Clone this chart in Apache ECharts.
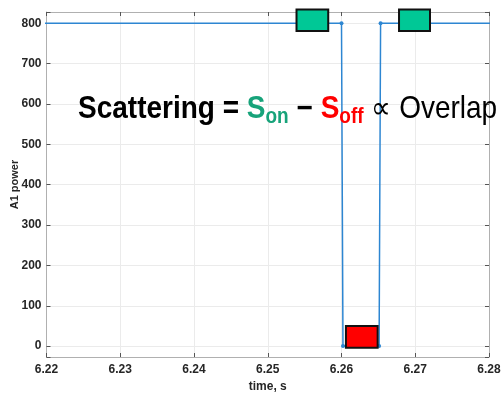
<!DOCTYPE html>
<html>
<head>
<meta charset="utf-8">
<script src="https://cdn.jsdelivr.net/npm/echarts@6/dist/echarts.min.js"></script>
<style>
	html, body { margin: 0; padding: 0; background: #fff; }
	#chart { width: 502px; height: 394px; }
</style>
</head>
<body>
<div id="chart"></div>
<script>
// trace samples (points outside the axis range are clipped)
var times = [6.21, 6.2600, 6.2602, 6.2651, 6.2653, 6.29];
var power = [800, 800, 0, 0, 800, 800];
// on / off boxes: [t0, t1, low, high]
var onBoxes = [[6.2539, 6.2582, 781, 834], [6.2678, 6.2720, 781, 834]];
var offBoxes = [[6.2606, 6.2649, -4, 50]];
var xTicks = [6.22, 6.23, 6.24, 6.25, 6.26, 6.27, 6.28];

var lineColor = '#2D86D2';
var axisGray = '#b0b0b0';
var labelColor = '#262626';

var dom = document.getElementById("chart");
var myChart = echarts.init(dom, null, { renderer: 'canvas' });

var lineData = [];
for (var i = 0; i < times.length; i++) {
	lineData.push([times[i], power[i]]);
}

function boxItem(color) {
	return function (params, api) {
		var p0 = api.coord([api.value(0), api.value(3)]);
		var p1 = api.coord([api.value(1), api.value(2)]);
		return {
			type: 'rect',
			shape: { x: p0[0], y: p0[1], width: p1[0] - p0[0], height: p1[1] - p0[1] },
			style: { fill: color, stroke: '#111', lineWidth: 2 }
		};
	};
}

var option = {
	animation: false,
	backgroundColor: '#fff',
	grid: { left: 46.5, right: 13, top: 12, bottom: 37, containLabel: false, outerBoundsMode: 'none' },
	xAxis: [
		{
			type: 'value', min: 6.22, max: 6.28, interval: 0.01,
			name: 'time, s', nameLocation: 'middle', nameGap: 24, nameMoveOverlap: false,
			nameTextStyle: { fontFamily: 'Liberation Sans', fontWeight: 'bold', fontSize: 12, color: labelColor },
			axisLine: { show: true, onZero: false, lineStyle: { color: axisGray, width: 1 } },
			axisTick: { show: true, inside: true, length: 4, lineStyle: { color: '#555' } },
			axisLabel: {
				margin: 7, fontFamily: 'Liberation Sans', fontWeight: 'bold', fontSize: 12, color: labelColor,
				formatter: function (v) { return v.toFixed(2); }
			},
			splitLine: { show: true, lineStyle: { color: '#ebebeb', width: 1 } }
		},
		{
			type: 'value', min: 6.22, max: 6.28, interval: 0.01, position: 'top',
			axisLine: { show: true, onZero: false, lineStyle: { color: axisGray, width: 1 } },
			axisTick: { show: true, inside: true, length: 4, lineStyle: { color: '#555' } },
			axisLabel: { show: false },
			splitLine: { show: false }
		}
	],
	yAxis: [
		{
			type: 'value', min: -27, max: 828, splitNumber: 9,
			name: 'A1 power', nameLocation: 'middle', nameGap: 26, nameMoveOverlap: false,
			nameTextStyle: { fontFamily: 'Liberation Sans', fontWeight: 'bold', fontSize: 11, color: labelColor },
			axisLine: { show: true, onZero: false, lineStyle: { color: axisGray, width: 1 } },
			axisTick: { show: true, inside: true, length: 4, lineStyle: { color: '#555' } },
			axisLabel: {
				margin: 5, fontFamily: 'Liberation Sans', fontWeight: 'bold', fontSize: 12, color: labelColor,
				formatter: function (v) { return (v % 100 === 0) ? String(v) : ''; }
			},
			splitLine: { show: true, lineStyle: { color: '#ebebeb', width: 1 } }
		},
		{
			type: 'value', min: -27, max: 828, splitNumber: 9, position: 'right',
			axisLine: { show: true, onZero: false, lineStyle: { color: axisGray, width: 1 } },
			axisTick: { show: true, inside: true, length: 4, lineStyle: { color: '#555' } },
			axisLabel: { show: false },
			splitLine: { show: false }
		}
	],
	series: [
		{
			type: 'line', data: lineData, clip: true, z: 3,
			symbol: 'circle',
			symbolSize: function (val) { return (val[0] > 6.22 && val[0] < 6.28) ? 4 : 0; },
			showAllSymbol: true,
			lineStyle: { color: lineColor, width: 1.5 },
			itemStyle: { color: lineColor }
		},
		{
			type: 'custom', data: onBoxes, renderItem: boxItem('#00C896'), clip: false, z: 5
		},
		{
			type: 'custom', data: offBoxes, renderItem: boxItem('#FF0000'), clip: false, z: 5
		}
	],
	graphic: [
		{
			type: 'text', x: 78, y: 90, scaleY: 1.12, z: 10,
			style: {
				text: '{b|Scattering = }{g|S}{gs|on}{b| \u2212 }{r|S}{rs|off}{n| \u221D Overlap}',
				rich: {
					b: { fontFamily: 'Liberation Sans', fontWeight: 'bold', fontSize: 28, lineHeight: 34, fill: '#000' },
					g: { fontFamily: 'Liberation Sans', fontWeight: 'bold', fontSize: 28, lineHeight: 34, fill: '#17A37A' },
					gs: { fontFamily: 'Liberation Sans', fontWeight: 'bold', fontSize: 19, lineHeight: 19, verticalAlign: 'bottom', fill: '#17A37A' },
					r: { fontFamily: 'Liberation Sans', fontWeight: 'bold', fontSize: 28, lineHeight: 34, fill: '#FF0000' },
					rs: { fontFamily: 'Liberation Sans', fontWeight: 'bold', fontSize: 19, lineHeight: 19, verticalAlign: 'bottom', fill: '#FF0000' },
					n: { fontFamily: 'Liberation Sans', fontSize: 28, lineHeight: 34, fill: '#000' }
				}
			}
		}
	]
};

if (option && typeof option === "object") {
	myChart.setOption(option, true);
}
</script>
</body>
</html>
